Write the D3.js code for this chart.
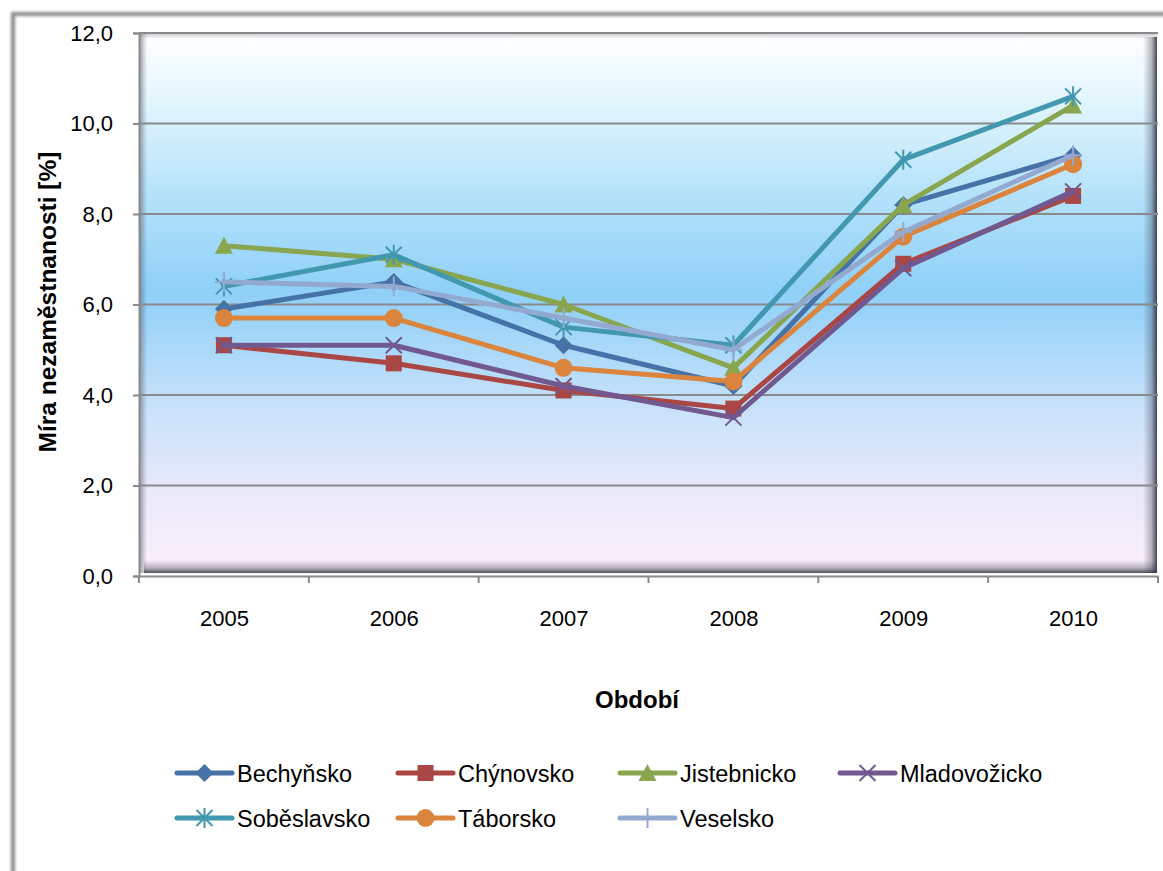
<!DOCTYPE html>
<html>
<head>
<meta charset="utf-8">
<script src="https://cdn.jsdelivr.net/npm/d3@7"></script>
<style>
html,body{margin:0;padding:0;background:#fff;}
svg{display:block;font-family:"Liberation Sans","Open Sans",sans-serif;}
</style>
</head>
<body>
<svg id="chart" width="1163" height="871"></svg>
<script>
const years = ["2005","2006","2007","2008","2009","2010"];
const seriesNames = ["Bechyňsko","Chýnovsko","Jistebnicko","Mladovožicko","Soběslavsko","Táborsko","Veselsko"];
const bechynsko    = [5.9, 6.5, 5.1, 4.2, 8.2, 9.3];
const chynovsko    = [5.1, 4.7, 4.1, 3.7, 6.9, 8.4];
const jistebnicko  = [7.3, 7.0, 6.0, 4.6, 8.2, 10.4];
const mladovozicko = [5.1, 5.1, 4.2, 3.5, 6.8, 8.5];
const sobeslavsko  = [6.4, 7.1, 5.5, 5.1, 9.2, 10.6];
const taborsko     = [5.7, 5.7, 4.6, 4.3, 7.5, 9.1];
const veselsko     = [6.5, 6.4, 5.7, 5.0, 7.6, 9.3];
const yTicks = [0, 2, 4, 6, 8, 10, 12];
const yTitle = "Míra nezaměstnanosti [%]";
const xTitle = "Období";

const colors = ["#4572A7","#AA4643","#89A54E","#71588F","#4198AF","#DB843D","#93A9CF"];
const markers = ["diamond","square","triangle","x","star","circle","plus"];
const values = [bechynsko, chynovsko, jistebnicko, mladovozicko, sobeslavsko, taborsko, veselsko];
const series = seriesNames.map((n,i)=>({name:n, values:values[i], color:colors[i], marker:markers[i]}));

const svg = d3.select("#chart");
const defs = svg.append("defs");

// Frame blur
const fb = defs.append("filter").attr("id","frameBlur").attr("x","-5%").attr("y","-5%").attr("width","110%").attr("height","110%");
fb.append("feGaussianBlur").attr("stdDeviation",1.6);

// Plot gradient
const grad = defs.append("linearGradient").attr("id","plotGrad").attr("x1",0).attr("y1",0).attr("x2",0).attr("y2",1);
[[0,"#ffffff"],[0.12,"#e4f6fd"],[0.3,"#b4e2fa"],[0.48,"#8fd0f8"],[0.7,"#c9e2fa"],[0.86,"#ebe9fa"],[1,"#fcf0fb"]]
  .forEach(([o,c])=>grad.append("stop").attr("offset",o).attr("stop-color",c));
function edgeGrad(id, x1,y1,x2,y2, stops){
  const e = defs.append("linearGradient").attr("id",id).attr("x1",x1).attr("y1",y1).attr("x2",x2).attr("y2",y2);
  stops.forEach(([o,c,a])=>e.append("stop").attr("offset",o).attr("stop-color",c).attr("stop-opacity",a));
}
edgeGrad("edgeR",0,0,1,0,[[0,"#3c3c50",0],[0.6,"#3c3c50",0.35],[1,"#303040",0.9]]);
edgeGrad("edgeB",0,0,0,1,[[0,"#3c3c50",0],[0.6,"#3c3c50",0.35],[1,"#303040",0.85]]);
edgeGrad("edgeL",0,0,1,0,[[0,"#606070",0.55],[1,"#606070",0]]);
edgeGrad("edgeT",0,0,0,1,[[0,"#606070",0.35],[1,"#606070",0]]);

// Outer frame (extends past right/bottom edges)
svg.append("rect").attr("x",13).attr("y",14).attr("width",1160).attr("height",870)
  .attr("fill","none").attr("stroke","#8a8a8a").attr("stroke-width",4).attr("filter","url(#frameBlur)");

const pLeft = 139, pRight = 1158, pTop = 33, pBottom = 576;
const y = d3.scaleLinear().domain([0,12]).range([pBottom, pTop]);
const xb = d3.scaleBand().domain(years).range([pLeft, pRight]);
const x = d3.scalePoint().domain(years).range([pLeft, pRight]).padding(0.5);

// Plot area with bevel edges
const bx0 = pLeft+1, bx1 = pRight-1, by0 = pTop, by1 = pBottom-3;
svg.append("rect").attr("x",bx0).attr("y",by0).attr("width",bx1-bx0).attr("height",by1-by0).attr("fill","url(#plotGrad)");
svg.append("rect").attr("x",bx0).attr("y",by0).attr("width",7).attr("height",by1-by0).attr("fill","url(#edgeL)");
svg.append("rect").attr("x",bx0).attr("y",by0).attr("width",bx1-bx0).attr("height",6).attr("fill","url(#edgeT)");
svg.append("rect").attr("x",bx1-14).attr("y",by0+4).attr("width",14).attr("height",by1-by0-4).attr("fill","url(#edgeR)");
svg.append("rect").attr("x",bx0+4).attr("y",by1-13).attr("width",bx1-bx0-4).attr("height",13).attr("fill","url(#edgeB)");

// Gridlines
svg.append("g").selectAll("line").data(yTicks.filter(d=>d>0)).join("line")
  .attr("x1",pLeft).attr("x2",pRight).attr("y1",d=>y(d)).attr("y2",d=>y(d))
  .attr("stroke","#8a8a8a").attr("stroke-width",2);

// Y axis
const yAxis = svg.append("g").attr("transform",`translate(${pLeft},0)`)
  .call(d3.axisLeft(y).tickValues(yTicks).tickSize(6).tickPadding(20).tickFormat(d=>d3.format(".1f")(d).replace(".",",")));
yAxis.select(".domain").attr("stroke","#8a8a8a").attr("stroke-width",2);
yAxis.selectAll(".tick line").attr("stroke","#8a8a8a").attr("stroke-width",2);
yAxis.selectAll(".tick text").attr("font-size",22).attr("fill","#000").attr("font-family","Liberation Sans, sans-serif");

// X axis
const xAxis = svg.append("g").attr("transform",`translate(0,${pBottom})`)
  .call(d3.axisBottom(x).tickSize(0).tickPadding(34));
xAxis.select(".domain").attr("stroke","#8a8a8a").attr("stroke-width",2);
xAxis.selectAll(".tick text").attr("font-size",22).attr("fill","#000").attr("font-family","Liberation Sans, sans-serif");
const bounds = years.map(d=>xb(d)).concat([xb(years[years.length-1])+xb.bandwidth()]);
svg.append("g").selectAll("line").data(bounds).join("line")
  .attr("x1",d=>d).attr("x2",d=>d).attr("y1",pBottom).attr("y2",pBottom+7)
  .attr("stroke","#8a8a8a").attr("stroke-width",2);

// Titles
svg.append("text").attr("transform",`translate(56,${302}) rotate(-90)`)
  .attr("text-anchor","middle").attr("font-size",24.5).attr("font-weight","bold").text(yTitle);
svg.append("text").attr("x",637).attr("y",708)
  .attr("text-anchor","middle").attr("font-size",24).attr("font-weight","bold").text(xTitle);

// Marker drawing
function drawMarker(sel, type, color, s) {
  const h = s/2;
  if (type === "diamond") {
    sel.append("path").attr("d",`M0,${-h-1}L${h+1},0L0,${h+1}L${-h-1},0Z`).attr("fill",color);
  } else if (type === "square") {
    sel.append("rect").attr("x",-h).attr("y",-h).attr("width",s).attr("height",s).attr("fill",color);
  } else if (type === "triangle") {
    sel.append("path").attr("d",`M0,${-h-1}L${h+1},${h}L${-h-1},${h}Z`).attr("fill",color);
  } else if (type === "circle") {
    sel.append("circle").attr("r",h+1).attr("fill",color);
  } else if (type === "x") {
    sel.append("path").attr("d",`M${-h},${-h}L${h},${h}M${-h},${h}L${h},${-h}`).attr("stroke",color).attr("stroke-width",2).attr("fill","none");
  } else if (type === "star") {
    sel.append("path").attr("d",`M${-h},${-h}L${h},${h}M${-h},${h}L${h},${-h}M0,${-h-2}L0,${h+2}`).attr("stroke",color).attr("stroke-width",2).attr("fill","none");
  } else if (type === "plus") {
    sel.append("path").attr("d",`M${-h-1},0L${h+1},0M0,${-h-2}L0,${h+2}`).attr("stroke",color).attr("stroke-width",2).attr("fill","none");
  }
}

const line = d3.line().x((d,i)=>x(years[i])).y(d=>y(d));
const sg = svg.append("g");
series.forEach(s=>{
  const gg = sg.append("g");
  gg.append("path").attr("d",line(s.values)).attr("fill","none").attr("stroke",s.color)
    .attr("stroke-width",5).attr("stroke-linejoin","round").attr("stroke-linecap","round");
  s.values.forEach((v,i)=>{
    const m = gg.append("g").attr("transform",`translate(${x(years[i])},${y(v)})`);
    drawMarker(m, s.marker, s.color, 16);
  });
});

// Legend
const colX = [177, 398, 620, 840];
const rowY = [773, 818];
const lg = svg.append("g");
series.forEach((s,i)=>{
  const cx = colX[i % 4], cy = rowY[Math.floor(i/4)];
  const e = lg.append("g").attr("transform",`translate(${cx},${cy})`);
  e.append("line").attr("x1",0).attr("x2",55).attr("y1",0).attr("y2",0).attr("stroke",s.color).attr("stroke-width",5).attr("stroke-linecap","round");
  const m = e.append("g").attr("transform","translate(27.5,0)");
  drawMarker(m, s.marker, s.color, 16);
  e.append("text").attr("x",60).attr("y",8.5).attr("font-size",23.5).attr("fill","#000").text(s.name);
});
</script>
</body>
</html>
